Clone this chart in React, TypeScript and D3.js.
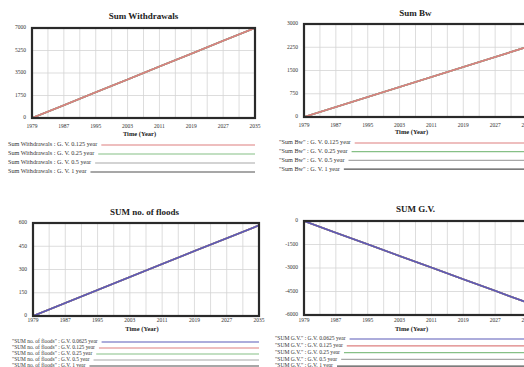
import { useRef, useEffect } from 'react';
import * as d3 from 'd3';

// values read at the labelled years
const years = [1979, 1987, 1995, 2003, 2011, 2019, 2027, 2035];
const withdrawals = [0, 1000, 2000, 3000, 4000, 5000, 6000, 7000];
const sumBw = [0, 322, 645, 968, 1290, 1612, 1935, 2260];
const floods = [0, 84, 168, 251, 335, 419, 502, 585];
const sumGV = [0, -745, -1490, -2230, -2975, -3720, -4460, -5200];

const steps4 = ['0.125', '0.25', '0.5', '1'];
const steps5 = ['0.0625', '0.125', '0.25', '0.5', '1'];

const ticksWithdrawals = [0, 1750, 3500, 5250, 7000];
const ticksBw = [0, 750, 1500, 2250, 3000];
const ticksFloods = [0, 150, 300, 450, 600];
const ticksGV = [-6000, -4500, -3000, -1500, 0];

const stepColor: Record<string, string> = {
    '0.0625': '#5a5ab8',
    '0.125': '#dd7f7f',
    '0.25': '#86c086',
    '0.5': '#a8a8a8',
    '1': '#505050',
};

const FONT = '"Liberation Serif", "DejaVu Serif", serif';

const panels = [
    {
        title: 'Sum Withdrawals', values: withdrawals, yTicks: ticksWithdrawals, steps: steps4,
        label: (s: string) => `Sum Withdrawals : G. V. ${s} year`,
        x0: 32, x1: 255, y0: 28, y1: 118, titleY: 17, tickY: 127, axisY: 135,
        legendY: 145, legendGap: 9, legendX: 8, legendFont: 6.2,
    },
    {
        title: 'Sum Bw', values: sumBw, yTicks: ticksBw, steps: steps4,
        label: (s: string) => `"Sum Bw" : G. V. ${s} year`,
        x0: 304, x1: 527, y0: 24, y1: 117, titleY: 14, tickY: 126, axisY: 133,
        legendY: 143, legendGap: 8.7, legendX: 279, legendFont: 6.2,
    },
    {
        title: 'SUM no. of floods', values: floods, yTicks: ticksFloods, steps: steps5,
        label: (s: string) => `"SUM no. of floods" : G.V. ${s} year`,
        x0: 33, x1: 259, y0: 223, y1: 316, titleY: 213, tickY: 321, axisY: 330,
        legendY: 342, legendGap: 6, legendX: 12, legendFont: 5.4,
    },
    {
        title: 'SUM G.V.', values: sumGV, yTicks: ticksGV, steps: steps5,
        label: (s: string) => `"SUM G.V." : G.V. ${s} year`,
        x0: 304, x1: 527, y0: 221, y1: 315, titleY: 210, tickY: 321, axisY: 330,
        legendY: 339, legendGap: 6.8, legendX: 275, legendFont: 5.6,
    },
];

export default function App() {
    const svgRef = useRef<SVGSVGElement>(null);

    useEffect(() => {
        if (!svgRef.current) return;
        const svg = d3.select(svgRef.current);
        svg.selectAll('*').remove();

        panels.forEach(p => {
            const g = svg.append('g');
            const x = d3.scaleLinear().domain([1979, 2035]).range([p.x0, p.x1]);
            const yMin = d3.min(p.yTicks) as number;
            const yMax = d3.max(p.yTicks) as number;
            const y = d3.scaleLinear().domain([yMin, yMax]).range([p.y1, p.y0]);

            // title
            g.append('text')
                .attr('x', (p.x0 + 255 - 32 + p.x0) / 2 + (p.x0 > 100 ? 0 : 0))
                .attr('y', p.titleY)
                .attr('text-anchor', 'middle')
                .attr('dominant-baseline', 'middle')
                .attr('fill', '#222')
                .style('font-family', FONT)
                .style('font-size', '9px')
                .style('font-weight', 'bold')
                .text(p.title);

            // grid
            g.selectAll('.vgrid')
                .data(d3.range(1979, 2036, 4))
                .enter()
                .append('line')
                .attr('x1', d => x(d)).attr('x2', d => x(d))
                .attr('y1', p.y0).attr('y2', p.y1)
                .attr('stroke', '#d4d4d4')
                .attr('stroke-width', 0.8);

            g.selectAll('.hgrid')
                .data(p.yTicks)
                .enter()
                .append('line')
                .attr('x1', p.x0).attr('x2', p.x1)
                .attr('y1', d => y(d)).attr('y2', d => y(d))
                .attr('stroke', '#d4d4d4')
                .attr('stroke-width', 0.8);

            // series: first legend entry ends up on top
            const line = d3.line<number>()
                .x((_, i) => x(years[i]))
                .y(d => y(d));

            [...p.steps].reverse().forEach(s => {
                g.append('path')
                    .datum(p.values)
                    .attr('d', line)
                    .attr('fill', 'none')
                    .attr('stroke', stepColor[s])
                    .attr('stroke-width', 1.6);
            });

            // frame
            g.append('rect')
                .attr('x', p.x0).attr('y', p.y0)
                .attr('width', p.x1 - p.x0).attr('height', p.y1 - p.y0)
                .attr('fill', 'none')
                .attr('stroke', '#2a2a2a')
                .attr('stroke-width', 2.2);

            // y tick labels
            g.selectAll('.ylab')
                .data(p.yTicks)
                .enter()
                .append('text')
                .attr('x', p.x0 - 6)
                .attr('y', d => y(d))
                .attr('text-anchor', 'end')
                .attr('dominant-baseline', 'middle')
                .attr('fill', '#333')
                .style('font-family', FONT)
                .style('font-size', '5.5px')
                .text(d => String(d));

            // x tick labels
            g.selectAll('.xlab')
                .data(years)
                .enter()
                .append('text')
                .attr('x', d => x(d))
                .attr('y', p.tickY)
                .attr('text-anchor', 'middle')
                .attr('dominant-baseline', 'middle')
                .attr('fill', '#333')
                .style('font-family', FONT)
                .style('font-size', '5.5px')
                .text(d => String(d));

            g.append('text')
                .attr('x', x(2006))
                .attr('y', p.axisY)
                .attr('text-anchor', 'middle')
                .attr('dominant-baseline', 'middle')
                .attr('fill', '#222')
                .style('font-family', FONT)
                .style('font-size', '6.5px')
                .style('font-weight', 'bold')
                .text('Time (Year)');

            // legend
            p.steps.forEach((s, i) => {
                const ly = p.legendY + i * p.legendGap;
                const t = g.append('text')
                    .attr('x', p.legendX)
                    .attr('y', ly)
                    .attr('dominant-baseline', 'middle')
                    .attr('fill', '#333')
                    .style('font-family', FONT)
                    .style('font-size', `${p.legendFont}px`)
                    .text(p.label(s));
                const tw = (t.node() as SVGTextElement).getComputedTextLength();
                g.append('line')
                    .attr('x1', p.legendX + tw + 4)
                    .attr('x2', p.x1)
                    .attr('y1', ly).attr('y2', ly)
                    .attr('stroke', stepColor[s])
                    .attr('stroke-width', 1.2);
            });
        });
    }, []);

    return (
        <div style={{ position: 'absolute', left: 0, top: 0, width: 524, height: 367, overflow: 'hidden', background: '#fff' }}>
            <svg ref={svgRef} width={524} height={367} style={{ display: 'block' }}></svg>
        </div>
    );
}
